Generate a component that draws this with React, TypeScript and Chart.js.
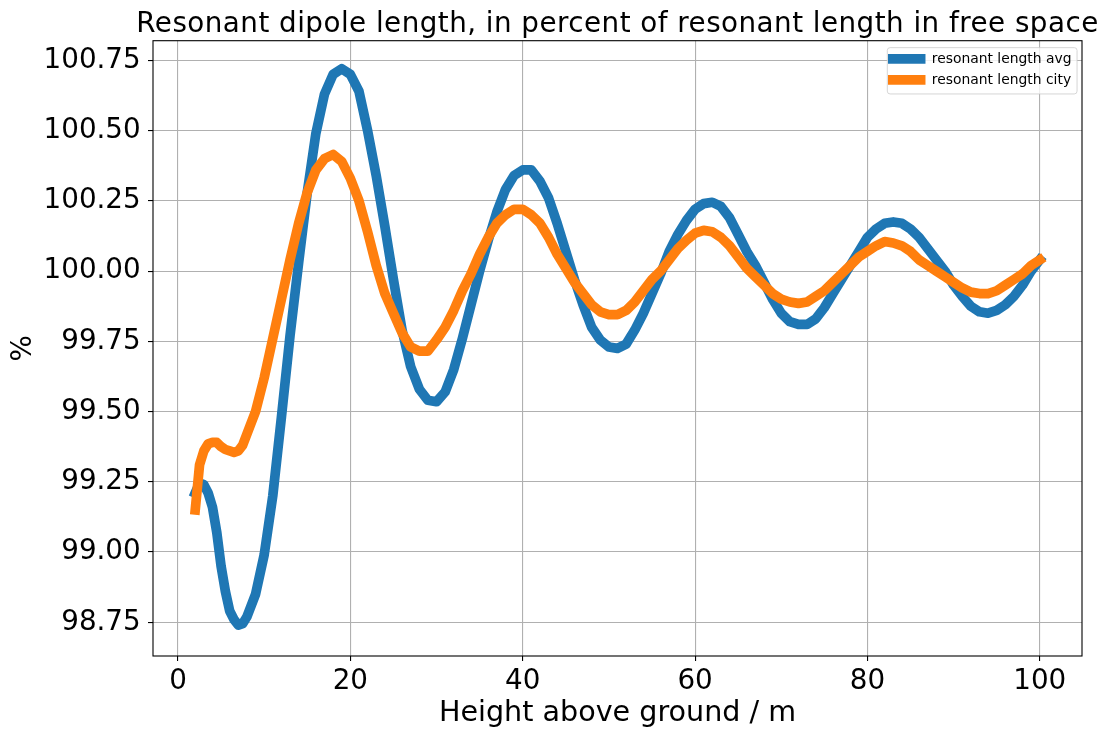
import React, { useEffect, useRef } from 'react';
import { Chart, registerables } from 'chart.js';

Chart.register(...registerables);

// heights above ground (m), finer steps near the ground
const heights = [
  2, 2.5, 3, 3.5, 4, 4.5, 5, 5.5, 6, 6.5, 7, 7.5, 8,
  9, 10, 11, 12, 13, 14, 15, 16, 17, 18, 19, 20,
  21, 22, 23, 24, 25, 26, 27, 28, 29, 30,
  31, 32, 33, 34, 35, 36, 37, 38, 39, 40,
  41, 42, 43, 44, 45, 46, 47, 48, 49, 50,
  51, 52, 53, 54, 55, 56, 57, 58, 59, 60,
  61, 62, 63, 64, 65, 66, 67, 68, 69, 70,
  71, 72, 73, 74, 75, 76, 77, 78, 79, 80,
  81, 82, 83, 84, 85, 86, 87, 88, 89, 90,
  91, 92, 93, 94, 95, 96, 97, 98, 99, 100,
];

const avgLength = [
  99.21, 99.245, 99.24, 99.21, 99.16, 99.07, 98.95, 98.86, 98.79, 98.76, 98.74, 98.745, 98.77,
  98.85, 98.99, 99.2, 99.48, 99.77, 100.03, 100.28, 100.49, 100.63, 100.7, 100.72, 100.7,
  100.64, 100.5, 100.34, 100.16, 99.97, 99.79, 99.66, 99.58, 99.54, 99.535,
  99.57, 99.65, 99.76, 99.88, 100.0, 100.11, 100.21, 100.29, 100.34, 100.36,
  100.36, 100.32, 100.26, 100.17, 100.07, 99.97, 99.88, 99.8, 99.755, 99.73,
  99.725, 99.74, 99.79, 99.85, 99.92, 99.99, 100.07, 100.13, 100.18, 100.22,
  100.24, 100.245, 100.23, 100.19, 100.13, 100.07, 100.02, 99.96, 99.9, 99.85,
  99.82, 99.81, 99.81, 99.83, 99.87, 99.92, 99.97, 100.02, 100.07, 100.12,
  100.15, 100.17, 100.175, 100.17, 100.15, 100.12, 100.08, 100.04, 100.0, 99.95,
  99.91, 99.875, 99.855, 99.85, 99.86, 99.88, 99.91, 99.95, 100.0, 100.04,
];

const cityLength = [
  99.15, 99.31, 99.36, 99.385, 99.39, 99.39, 99.375, 99.365, 99.36, 99.355, 99.36, 99.38, 99.42,
  99.5, 99.62, 99.76, 99.9, 100.04, 100.17, 100.28, 100.36, 100.4, 100.415, 100.39, 100.33,
  100.25, 100.14, 100.02, 99.92, 99.85, 99.78, 99.73, 99.715, 99.715, 99.755,
  99.8, 99.86, 99.93, 99.99, 100.06, 100.12, 100.17, 100.2, 100.22, 100.22,
  100.2, 100.17, 100.12, 100.06, 100.01, 99.96, 99.92, 99.88, 99.855, 99.845,
  99.845, 99.86, 99.89, 99.93, 99.97, 100.0, 100.04, 100.08, 100.11, 100.135,
  100.145, 100.14, 100.12, 100.09, 100.05, 100.01, 99.98, 99.95, 99.92, 99.9,
  99.89, 99.885, 99.89, 99.91, 99.93, 99.96, 99.99, 100.02, 100.05, 100.07,
  100.09, 100.105, 100.1, 100.09, 100.07, 100.04, 100.02, 100.0, 99.98, 99.96,
  99.94, 99.925, 99.92, 99.92, 99.93, 99.95, 99.97, 99.99, 100.02, 100.04,
];

const xTicks = [0, 20, 40, 60, 80, 100];
const yTicks = [98.75, 99.0, 99.25, 99.5, 99.75, 100.0, 100.25, 100.5, 100.75];
const seriesLabels = ['resonant length avg', 'resonant length city'];
const seriesColors = ['#1f77b4', '#ff7f0e'];
const chartTitle = 'Resonant dipole length, in percent of resonant length in free space';

const FONT = "'DejaVu Sans', sans-serif";
const BIG = 27.78;
const SMALL = 13.89;

// title over the axes, frame on all four sides, and a matplotlib-like legend box
const framePlugin = {
  id: 'frame',
  afterDraw(chart: any) {
    const { ctx, chartArea: a } = chart;
    ctx.save();
    ctx.strokeStyle = '#000';
    ctx.lineWidth = 1.1;
    ctx.strokeRect(a.left, a.top, a.right - a.left, a.bottom - a.top);

    // title (chart.js would squeeze it to the box width)
    ctx.font = `${BIG}px ${FONT}`;
    ctx.fillStyle = '#000';
    ctx.textAlign = 'center';
    ctx.textBaseline = 'alphabetic';
    ctx.letterSpacing = '0.47px';
    ctx.fillText(chartTitle, (a.left + a.right) / 2, 31.7);
    ctx.letterSpacing = '0px';

    ctx.font = `${SMALL}px ${FONT}`;
    const labels = chart.data.datasets.map((d: any) => d.label);
    const textW = Math.max(...labels.map((l: string) => ctx.measureText(l).width));
    const pad = 0.4 * SMALL;
    const handleLen = 2 * SMALL;
    const handleGap = 0.8 * SMALL;
    const rowH = 21;
    const w = pad + handleLen + handleGap + textW + pad;
    const h = 46.3;
    const x0 = a.right - 0.5 * SMALL - w + 2;
    const y0 = a.top + 0.5 * SMALL;

    ctx.beginPath();
    ctx.roundRect(x0, y0, w, h, 2.8);
    ctx.fillStyle = 'rgba(255,255,255,0.8)';
    ctx.fill();
    ctx.strokeStyle = 'rgba(204,204,204,0.8)';
    ctx.lineWidth = 1;
    ctx.stroke();

    chart.data.datasets.forEach((d: any, i: number) => {
      const cy = y0 + 11.3 + i * rowH;
      ctx.beginPath();
      ctx.lineCap = 'square';
      ctx.strokeStyle = d.borderColor;
      ctx.lineWidth = 9.7;
      ctx.moveTo(x0 + pad, cy);
      ctx.lineTo(x0 + pad + handleLen, cy);
      ctx.stroke();
      ctx.fillStyle = '#000';
      ctx.textBaseline = 'middle';
      ctx.textAlign = 'left';
      ctx.fillText(d.label, x0 + pad + handleLen + handleGap, cy);
    });
    ctx.restore();
  },
};

const App: React.FC = () => {
  const canvasRef = useRef<HTMLCanvasElement>(null);

  useEffect(() => {
    if (!canvasRef.current) return;
    const series = [avgLength, cityLength];
    const chart = new Chart(canvasRef.current, {
      type: 'line',
      data: {
        datasets: series.map((vals, i) => ({
          label: seriesLabels[i],
          data: heights.map((h, j) => ({ x: h, y: vals[j] })),
          borderColor: seriesColors[i],
          backgroundColor: seriesColors[i],
          borderWidth: 9.7,
          pointRadius: 0,
          tension: 0,
          borderCapStyle: 'square',
          borderJoinStyle: 'round',
          order: 1 - i,
        })),
      },
      options: {
        responsive: false,
        animation: false,
        layout: { padding: { left: 0, right: 28, top: 40.7, bottom: 0 } },
        plugins: {
          legend: { display: false },
          tooltip: { enabled: false },
          title: { display: false },
        },
        scales: {
          x: {
            type: 'linear',
            min: -2.9,
            max: 104.9,
            afterFit: (s: any) => {
              s.height = 84;
            },
            afterBuildTicks: (s: any) => {
              s.ticks = xTicks.map((v) => ({ value: v }));
            },
            ticks: {
              callback: (v: any) => String(v),
              color: '#000',
              font: { family: FONT, size: BIG },
              padding: 4,
              maxRotation: 0,
              autoSkip: false,
            },
            grid: { color: '#b0b0b0', lineWidth: 1.1, tickColor: '#000', tickLength: 5, tickWidth: 1.1 },
            border: { display: false },
            title: {
              display: true,
              text: 'Height above ground / m',
              color: '#000',
              font: { family: FONT, size: 28.6 },
              padding: { top: 0, bottom: 9 },
            },
          },
          y: {
            type: 'linear',
            min: 98.63,
            max: 100.82,
            afterFit: (s: any) => {
              s.width = 153;
            },
            afterBuildTicks: (s: any) => {
              s.ticks = yTicks.map((v) => ({ value: v }));
            },
            ticks: {
              callback: (v: any) => Number(v).toFixed(2),
              color: '#000',
              font: { family: FONT, size: BIG },
              padding: 7.3,
              autoSkip: false,
            },
            grid: { color: '#b0b0b0', lineWidth: 1.1, tickColor: '#000', tickLength: 5, tickWidth: 1.1 },
            border: { display: false },
            title: {
              display: true,
              text: '%',
              color: '#000',
              font: { family: FONT, size: BIG },
              padding: { top: 6.7, bottom: 0 },
            },
          },
        },
      },
      plugins: [framePlugin],
    } as any);
    return () => chart.destroy();
  }, []);

  return (
    <div style={{ position: 'absolute', left: 0, top: 0, width: 1110, height: 740 }}>
      <canvas ref={canvasRef} width={1110} height={740} />
    </div>
  );
};

export default App;
